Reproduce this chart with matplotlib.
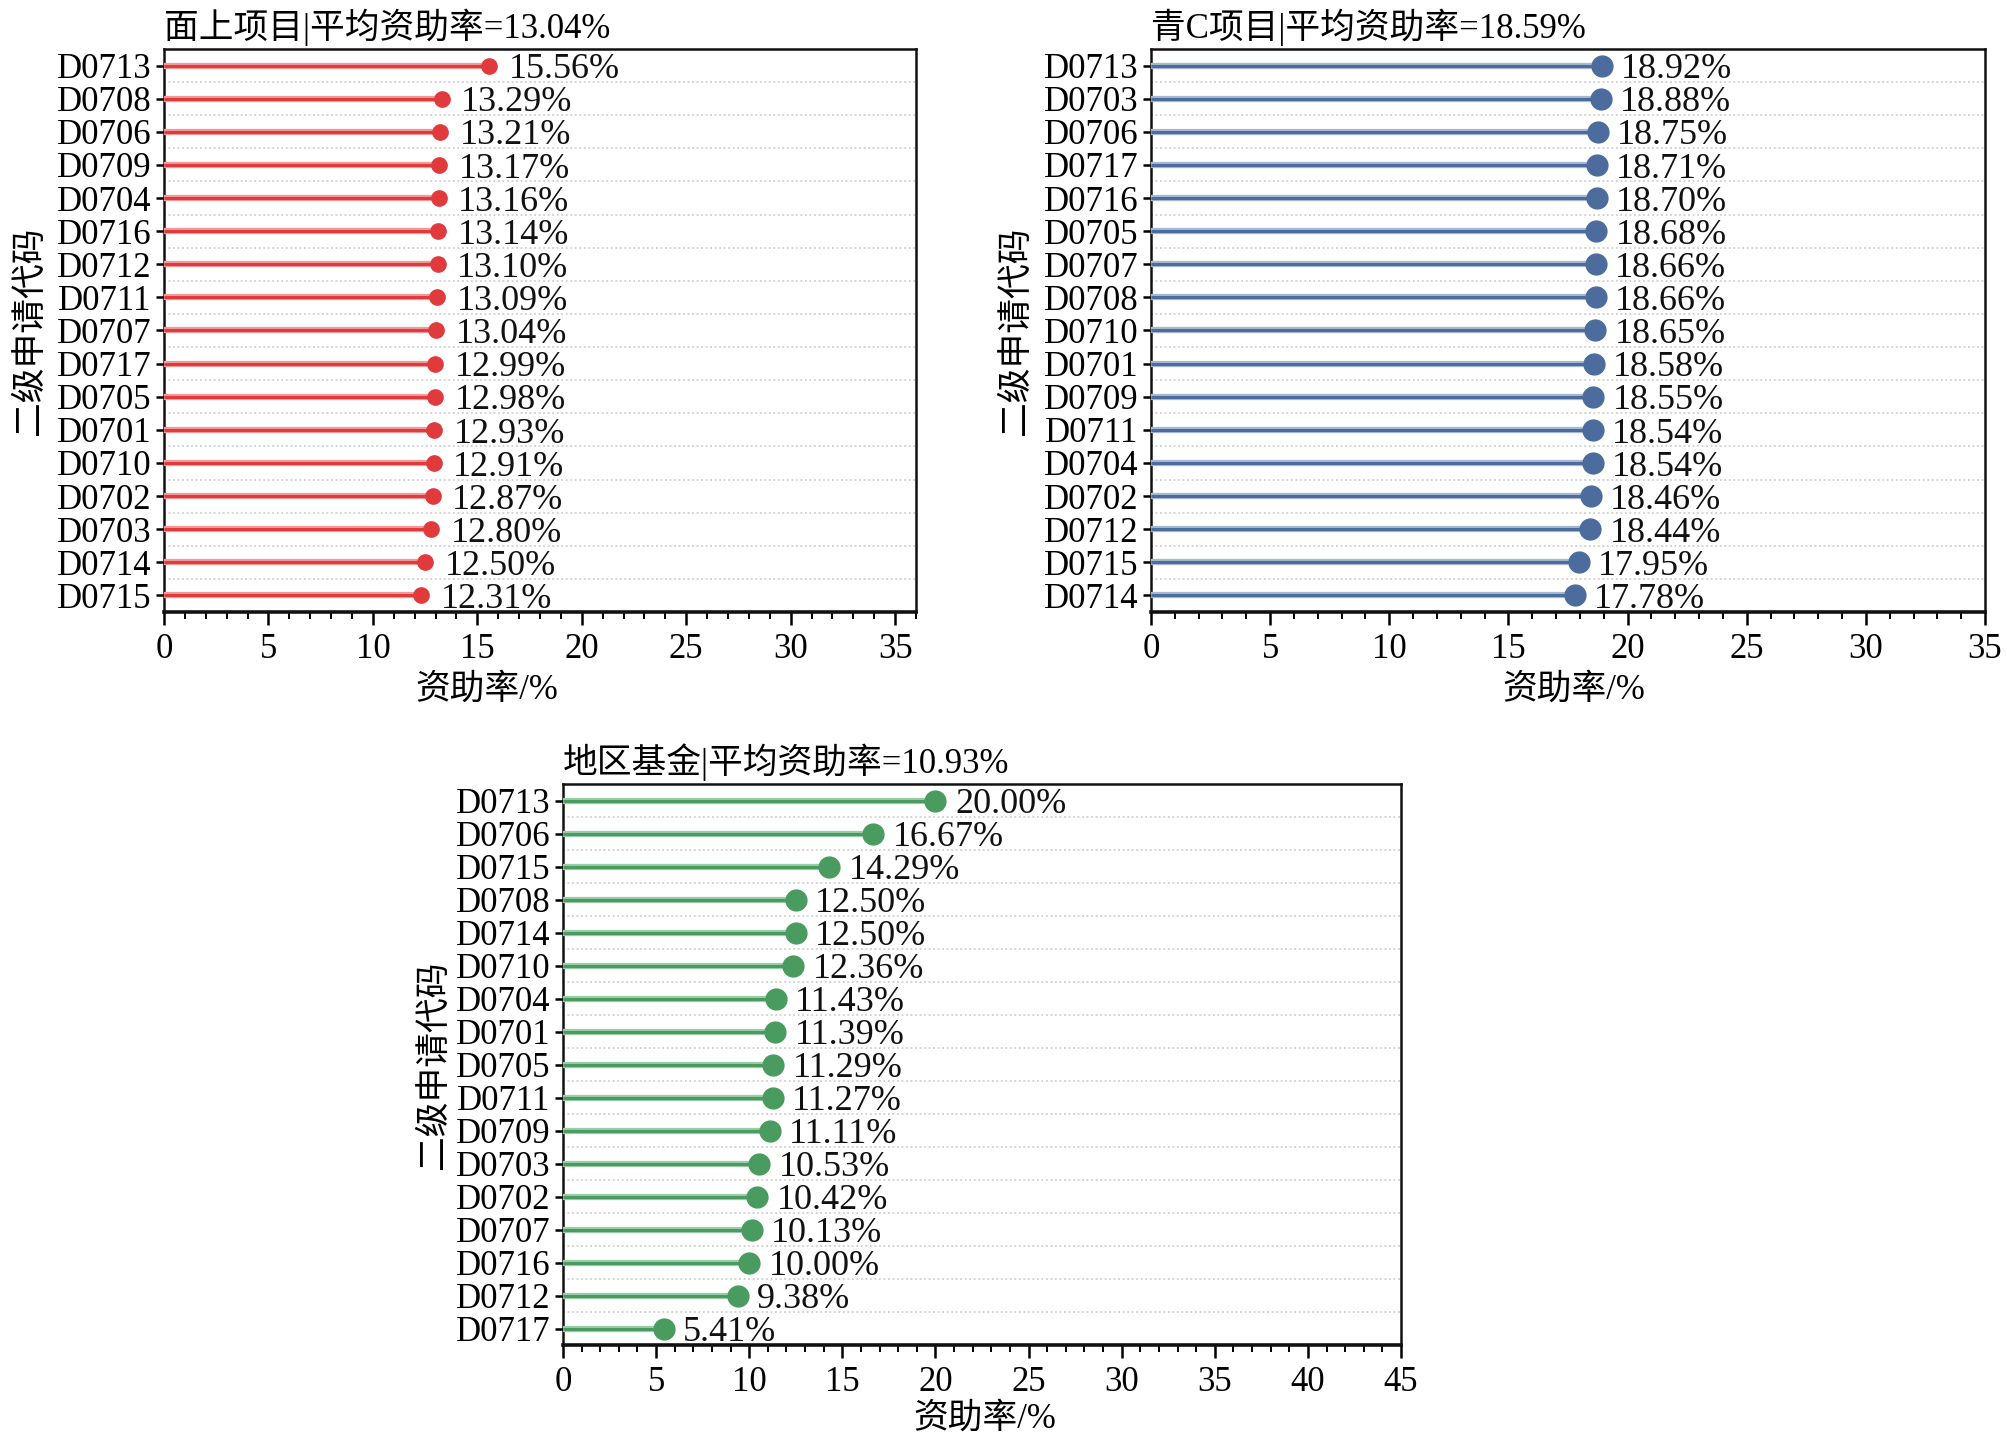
import matplotlib
matplotlib.use("Agg")
import matplotlib.pyplot as plt
import matplotlib.patheffects as pe
from matplotlib.ticker import MultipleLocator

plt.rcParams['font.family'] = ['Liberation Serif', 'Noto Sans CJK SC', 'DejaVu Sans']

# ---------------- data ----------------
cats1 = ["D0713", "D0708", "D0706", "D0709", "D0704", "D0716", "D0712", "D0711", "D0707",
         "D0717", "D0705", "D0701", "D0710", "D0702", "D0703", "D0714", "D0715"]
vals1 = [15.56, 13.29, 13.21, 13.17, 13.16, 13.14, 13.10, 13.09, 13.04,
         12.99, 12.98, 12.93, 12.91, 12.87, 12.80, 12.50, 12.31]
title1 = "面上项目|平均资助率=13.04%"

cats2 = ["D0713", "D0703", "D0706", "D0717", "D0716", "D0705", "D0707", "D0708", "D0710",
         "D0701", "D0709", "D0711", "D0704", "D0702", "D0712", "D0715", "D0714"]
vals2 = [18.92, 18.88, 18.75, 18.71, 18.70, 18.68, 18.66, 18.66, 18.65,
         18.58, 18.55, 18.54, 18.54, 18.46, 18.44, 17.95, 17.78]
title2 = "青C项目|平均资助率=18.59%"

cats3 = ["D0713", "D0706", "D0715", "D0708", "D0714", "D0710", "D0704", "D0701", "D0705",
         "D0711", "D0709", "D0703", "D0702", "D0707", "D0716", "D0712", "D0717"]
vals3 = [20.00, 16.67, 14.29, 12.50, 12.50, 12.36, 11.43, 11.39, 11.29,
         11.27, 11.11, 10.53, 10.42, 10.13, 10.00, 9.38, 5.41]
title3 = "地区基金|平均资助率=10.93%"

ylabel = "二级申请代码"
xlabel = "资助率/%"

W, H = 2008, 1442
fig = plt.figure(figsize=(W / 100, H / 100), dpi=100)
fig.patch.set_facecolor('white')

FS = 25


def rect(l, r, t, b):
    return [l / W, 1 - b / H, (r - l) / W, (b - t) / H]


def panel(box, cats, vals, title, color, edge, xmax, msize, xlab_xy, ylab_x):
    ax = fig.add_axes(rect(*box))
    n = len(cats)
    ys = list(range(n))
    for y, v in zip(ys, vals):
        ax.plot([0, v], [y, y], color=color, lw=2.2, solid_capstyle='butt', zorder=3,
                path_effects=[pe.Stroke(linewidth=4.5, foreground=edge), pe.Normal()])
    ax.plot(vals, ys, 'o', color=color, ms=msize, mec=color, zorder=4, clip_on=False)
    for y, v in zip(ys, vals):
        ax.annotate(f"{v:.2f}%", (v, y), xytext=(14, -3), textcoords='offset points',
                    va='center', ha='left', fontsize=26, color='#111111', zorder=5)
    ax.set_ylim(n - 0.5, -0.5)
    ax.set_xlim(0, xmax)
    ax.set_yticks(ys)
    ax.set_yticklabels(cats, fontsize=FS)
    for k in range(n - 1):
        ax.axhline(k + 0.5, color='#cfcfcf', lw=1.3, ls=(0, (1, 1.5)), zorder=1)
    ax.xaxis.set_major_locator(MultipleLocator(5))
    ax.xaxis.set_minor_locator(MultipleLocator(1))
    ax.tick_params(axis='x', which='major', direction='out', length=9, width=1.8,
                   labelsize=FS, pad=6)
    ax.tick_params(axis='x', which='minor', direction='out', length=5, width=1.4)
    ax.tick_params(axis='y', direction='out', length=6, width=1.8, pad=3)
    for s in ax.spines.values():
        s.set_linewidth(1.8)
        s.set_color('#111111')
    ax.spines['bottom'].set_linewidth(2.6)
    ax.set_title(title, loc='left', fontsize=FS, pad=8)
    fig.text(xlab_xy[0] / W, 1 - xlab_xy[1] / H, xlabel, fontsize=FS,
             ha='center', va='center')
    fig.text(ylab_x / W, 1 - (box[2] + box[3]) / 2 / H, ylabel, fontsize=FS,
             rotation=90, ha='center', va='center')
    return ax


panel((164, 916, 49, 612), cats1, vals1, title1, '#e03a3d', '#f29a9a', 36, 11, (487, 690), 30)
panel((1151, 1985, 49, 612), cats2, vals2, title2, '#4b6c9c', '#a6b8d2', 35, 15, (1574, 690), 1016)
panel((563, 1401, 784, 1345), cats3, vals3, title3, '#4a9b60', '#9acca8', 45, 15, (985, 1419), 434)

fig.savefig("out.png", dpi=100, facecolor='white')
